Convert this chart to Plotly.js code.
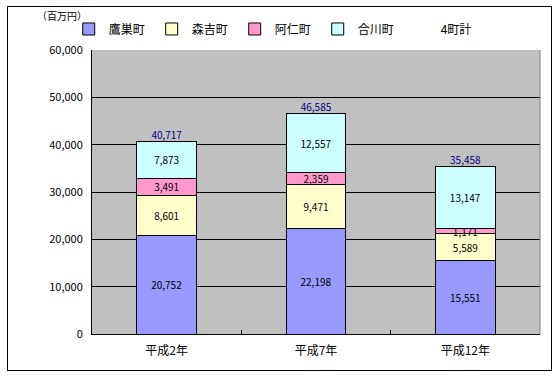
<!DOCTYPE html>
<html><head><meta charset="utf-8">
<script src="https://cdn.plot.ly/plotly-3.0.1.min.js"></script>
<style>
body{margin:0;padding:0;background:#fff;}
#wrap{position:relative;width:559px;height:378px;}
#chart{position:absolute;left:0;top:0;width:559px;height:378px;}
#frame{position:absolute;left:7px;top:6px;width:543px;height:363px;border:1px solid #000;pointer-events:none;}
</style></head>
<body>
<div id="wrap"><div id="chart"></div><div id="frame"></div></div>
<script>
const categories = ['平成2年', '平成7年', '平成12年'];
const takanosu = [20752, 22198, 15551];
const moriyoshi = [8601, 9471, 5589];
const ani = [3491, 2359, 1171];
const aikawa = [7873, 12557, 13147];
const totals = [40717, 46585, 35458];
const seriesNames = ['鷹巣町', '森吉町', '阿仁町', '合川町', '4町計'];
const colors = ['#9999FF', '#FFFFCC', '#FF99CC', '#CCFFFF'];

const jp = '"Noto Sans CJK JP", "DejaVu Sans", sans-serif';
const fmt = v => v.toLocaleString('en-US');

const seriesVals = [takanosu, moriyoshi, ani, aikawa];
const traces = seriesVals.map((vals, i) => ({
  type: 'bar',
  name: seriesNames[i],
  x: categories,
  y: vals,
  text: vals.map(fmt),
  textposition: 'inside',
  insidetextanchor: 'middle',
  textangle: 0,
  constraintext: 'none',
  textfont: {family: jp, size: 10, color: '#000'},
  marker: {color: colors[i], line: {color: '#000', width: 1}},
  hoverinfo: 'skip'
}));
traces.push({
  type: 'scatter',
  mode: 'lines+text',
  name: seriesNames[4],
  x: categories,
  y: totals,
  line: {color: 'rgba(0,0,0,0)', width: 0},
  text: totals.map(fmt),
  textposition: 'top center',
  textfont: {family: jp, size: 10, color: '#000080'},
  cliponaxis: false,
  hoverinfo: 'skip'
});

const layout = {
  width: 559, height: 378,
  margin: {l: 92, r: 19, t: 50, b: 44},
  paper_bgcolor: 'rgba(0,0,0,0)',
  plot_bgcolor: '#C0C0C0',
  barmode: 'stack',
  bargap: 0.6,
  font: {family: jp, size: 11, color: '#000'},
  uniformtext: {mode: 'show', minsize: 10},
  showlegend: true,
  legend: {
    orientation: 'h', x: -0.052, xanchor: 'left', y: 1.074, yanchor: 'middle',
    font: {family: jp, size: 12, color: '#000'},
    bgcolor: 'rgba(0,0,0,0)', entrywidth: 38, itemwidth: 30, traceorder: 'normal'
  },
  xaxis: {
    type: 'category',
    showline: true, linecolor: '#000', linewidth: 1,
    ticks: 'inside', ticklen: 4, tickcolor: '#000', tickson: 'boundaries',
    ticklabelstandoff: 6,
    tickfont: {family: jp, size: 12, color: '#000'},
    showgrid: false, fixedrange: true
  },
  yaxis: {
    range: [0, 60000], dtick: 10000, tickformat: ',d',
    showline: true, linecolor: '#000', linewidth: 1,
    gridcolor: '#000', gridwidth: 1, zeroline: false,
    ticks: '', ticklabelstandoff: 6,
    tickfont: {family: jp, size: 11, color: '#000'},
    fixedrange: true
  },
  shapes: [{type: 'line', xref: 'paper', yref: 'paper', x0: 1, x1: 1, y0: 0, y1: 1, line: {color: '#808080', width: 1}}],
  annotations: [{
    text: '（百万円）', xref: 'paper', yref: 'paper', x: -0.068, y: 1.123,
    xanchor: 'center', yanchor: 'middle', showarrow: false,
    font: {family: jp, size: 10, color: '#000'}
  }]
};

Plotly.newPlot('chart', traces, layout, {staticPlot: true, displayModeBar: false});
</script>
</body></html>
